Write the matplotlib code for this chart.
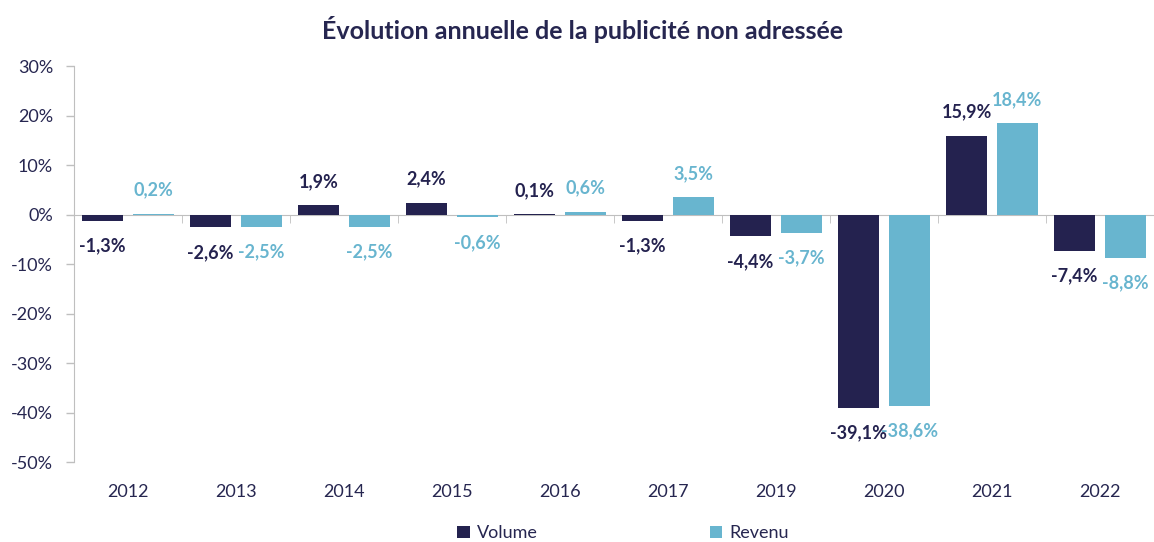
import matplotlib
matplotlib.use("Agg")
import matplotlib.pyplot as plt
import numpy as np
from matplotlib.ticker import FuncFormatter, FixedLocator

plt.rcParams['font.family'] = ['Lato', 'DejaVu Sans']

years = ["2012", "2013", "2014", "2015", "2016", "2017", "2019", "2020", "2021", "2022"]
volume = [-1.3, -2.6, 1.9, 2.4, 0.1, -1.3, -4.4, -39.1, 15.9, -7.4]
revenu = [0.2, -2.5, -2.5, -0.6, 0.6, 3.5, -3.7, -38.6, 18.4, -8.8]
series_names = ["Volume", "Revenu"]

c_vol = "#24224F"
c_rev = "#68B5CF"
c_text = "#262650"

fig = plt.figure(figsize=(11.54, 5.42), dpi=100)
ax = fig.add_axes([0.0641, 0.1476, 0.9359, 0.7306])

x = np.arange(len(years))
w = 0.38
off = 0.235
b1 = ax.bar(x - off, volume, w, color=c_vol, label=series_names[0], zorder=3)
b2 = ax.bar(x + off, revenu, w, color=c_rev, label=series_names[1], zorder=3)

def fmt(v):
    return f"{v:.1f}%".replace(".", ",")

for bars, vals, col in ((b1, volume, c_vol), (b2, revenu, c_rev)):
    for rect, v in zip(bars, vals):
        cx = rect.get_x() + rect.get_width() / 2
        dy = 17 if v >= 0 else -18
        ax.annotate(fmt(v), (cx, v), xytext=(0, dy), textcoords="offset points",
                    ha="center", va="center", fontsize=13, fontweight="bold",
                    color=col, zorder=4)

ax.set_xlim(-0.5, len(years) - 0.5)
ax.set_ylim(-50, 30)
ax.set_yticks(np.arange(-50, 31, 10))
ax.yaxis.set_major_formatter(FuncFormatter(lambda v, p: f"{int(round(v))}%"))
ax.tick_params(axis="y", labelsize=13, labelcolor=c_text, color="#BFBFBF",
               length=6, width=1, direction="out", pad=9)

for s in ("top", "right"):
    ax.spines[s].set_visible(False)
ax.spines["left"].set_color("#BFBFBF")
ax.spines["bottom"].set_position(("data", 0))
ax.spines["bottom"].set_color("#BFBFBF")
ax.set_xticks([])
ax.xaxis.set_minor_locator(FixedLocator(np.arange(0.5, len(years) - 1, 1.0)))
ax.tick_params(axis="x", which="minor", length=6, color="#BFBFBF", direction="out")
ax.tick_params(axis="x", which="major", length=0)

sec = ax.secondary_xaxis("bottom")
sec.set_xticks(x)
sec.set_xticklabels(years)
sec.spines["bottom"].set_visible(False)
sec.tick_params(axis="x", length=0, labelsize=13, labelcolor=c_text, pad=16)

fig.text(0.505, 0.945, "Évolution annuelle de la publicité non adressée",
         ha="center", va="center", fontsize=18, fontweight="bold", color=c_text)

leg = fig.legend(handles=[b1, b2], labels=series_names, loc="center",
                 bbox_to_anchor=(0.54, 0.016), ncol=2, frameon=False,
                 fontsize=13, handlelength=0.7, handleheight=0.7,
                 columnspacing=9.5, handletextpad=0.4)
for t in leg.get_texts():
    t.set_color(c_text)

fig.savefig("out.png", dpi=100)
